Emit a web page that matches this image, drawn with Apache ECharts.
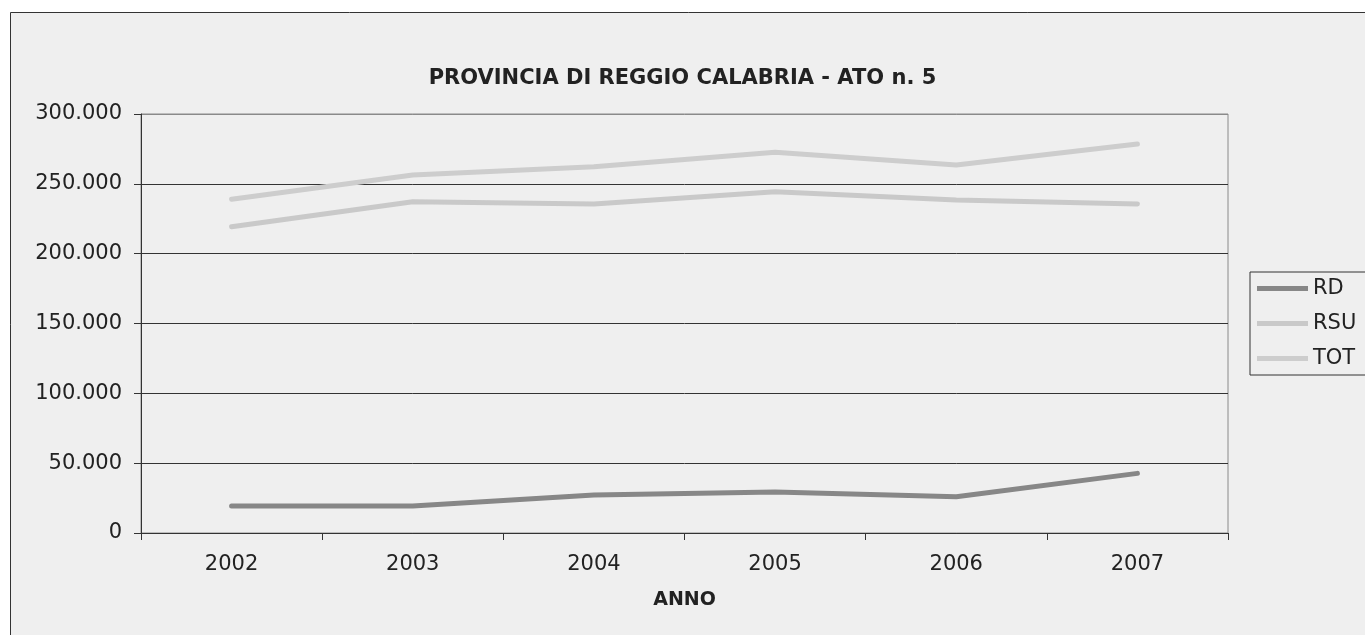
<!DOCTYPE html>
<html>
<head>
<meta charset="utf-8">
<script src="https://cdn.jsdelivr.net/npm/echarts@6/dist/echarts.min.js"></script>
<style>
html,body{margin:0;padding:0;background:#fff;}
#c{width:1365px;height:635px;}
</style>
</head>
<body>
<div id="c"></div>
<script>
var years = ['2002','2003','2004','2005','2006','2007'];
var rd  = [19300, 19300, 27200, 29400, 26000, 42700];
var rsu = [219300, 237200, 235600, 244400, 238400, 235600];
var tot = [239000, 256300, 262300, 272600, 263500, 278500];
var seriesNames = ['RD','RSU','TOT'];
var seriesColors = ['#878787','#c9c9c9','#cdcdcd'];
var titleText = 'PROVINCIA DI REGGIO CALABRIA - ATO n. 5';
var xAxisName = 'ANNO';

function fmt(v){
  return String(v).replace(/\B(?=(\d{3})+(?!\d))/g, '.');
}

var chart = echarts.init(document.getElementById('c'), null, {renderer:'canvas'});
var font = 'DejaVu Sans';
var dataSets = [rd, rsu, tot];
chart.setOption({
  backgroundColor: '#ffffff',
  animation: false,
  graphic: [{
    type: 'rect', z: -10, silent: true,
    shape: {x: 10.5, y: 12.5, width: 1400, height: 700},
    style: {fill: '#efefef', stroke: '#333333', lineWidth: 1}
  }],
  title: {
    text: titleText, left: 'center', top: 63,
    textStyle: {fontFamily: font, fontWeight: 'bold', fontSize: 21, color: '#222222'}
  },
  grid: {
    left: 141, top: 114, right: 137, bottom: 102,
    show: true, borderColor: '#8a8a8a', borderWidth: 1, backgroundColor: 'transparent'
  },
  legend: {
    orient: 'vertical', left: 1250, top: 272,
    data: seriesNames,
    icon: 'rect', itemWidth: 51, itemHeight: 5, itemGap: 14, itemTextGap: 5,
    padding: [6, 30, 6, 7],
    borderColor: '#333333', borderWidth: 1,
    backgroundColor: '#efefef',
    textStyle: {fontFamily: font, fontSize: 21, color: '#222222', lineHeight: 21}
  },
  xAxis: {
    type: 'category', data: years, boundaryGap: true,
    name: xAxisName, nameLocation: 'middle', nameGap: 58,
    nameTextStyle: {fontFamily: font, fontWeight: 'bold', fontSize: 19, color: '#222222'},
    axisLine: {lineStyle: {color: '#333333', width: 1}},
    axisTick: {show: true, alignWithLabel: false, length: 7, lineStyle: {color: '#333333'}},
    axisLabel: {fontFamily: font, fontSize: 21, color: '#222222', margin: 21},
    splitLine: {show: false}
  },
  yAxis: {
    type: 'value', min: 0, max: 300000, interval: 50000,
    axisLine: {show: true, lineStyle: {color: '#333333', width: 1}},
    axisTick: {show: true, length: 7, lineStyle: {color: '#333333'}},
    axisLabel: {fontFamily: font, fontSize: 21, color: '#222222', margin: 19, formatter: fmt},
    splitLine: {show: true, lineStyle: {color: ['#333333','#333333','#333333','#333333','#333333','#333333','#8a8a8a'], width: 1}}
  },
  series: seriesNames.map(function(n, i){
    return {
      name: n, type: 'line', data: dataSets[i],
      symbol: 'none', smooth: false,
      lineStyle: {color: seriesColors[i], width: 5, cap: 'round', join: 'round'},
      itemStyle: {color: seriesColors[i]}
    };
  })
});
</script>
</body>
</html>
